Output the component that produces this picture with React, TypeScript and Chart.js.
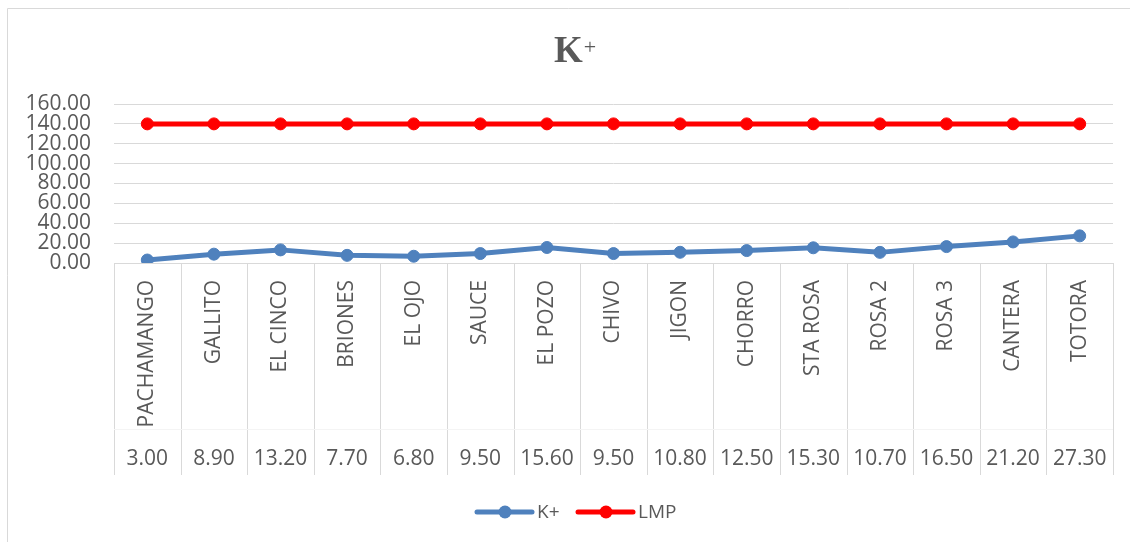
import React, { useEffect, useRef } from 'react';
import { Chart, registerables } from 'chart.js';

Chart.register(...registerables);

const categories = ['PACHAMANGO', 'GALLITO', 'EL CINCO', 'BRIONES', 'EL OJO', 'SAUCE', 'EL POZO', 'CHIVO', 'JIGON', 'CHORRO', 'STA ROSA', 'ROSA 2', 'ROSA 3', 'CANTERA', 'TOTORA'];
const kValues = [3.0, 8.9, 13.2, 7.7, 6.8, 9.5, 15.6, 9.5, 10.8, 12.5, 15.3, 10.7, 16.5, 21.2, 27.3];
const lmpValues = [140, 140, 140, 140, 140, 140, 140, 140, 140, 140, 140, 140, 140, 140, 140];
const yMin = 0;
const yMax = 160;
const yStep = 20;
const titleMain = 'K';
const titleSup = '+';
const seriesNames = ['K+', 'LMP'];
const seriesColors = ['#4F81BD', '#FF0000'];

const FONT = "'Open Sans', 'Liberation Sans', sans-serif";
const TEXT = '#595959';
const GRID = '#d9d9d9';

const decorPlugin = {
  id: 'decor',
  afterDraw(chart: any) {
    const { ctx, chartArea, scales } = chart;
    const x = scales.x;
    const n = categories.length;
    const w = (chartArea.right - chartArea.left) / n;
    const top = chartArea.bottom;
    const bottom = x.bottom;
    ctx.save();

    // outer frame (cropped on right/bottom)
    ctx.strokeStyle = GRID;
    ctx.lineWidth = 1;
    ctx.beginPath();
    ctx.moveTo(7.5, 542);
    ctx.lineTo(7.5, 8.5);
    ctx.lineTo(1130, 8.5);
    ctx.stroke();

    // data table vertical lines
    ctx.strokeStyle = GRID;
    ctx.lineWidth = 1;
    for (let i = 0; i <= n; i++) {
      const px = Math.round(x.getPixelForValue(0) - w / 2 + i * w) + 0.5;
      ctx.beginPath();
      ctx.moveTo(px, top);
      ctx.lineTo(px, bottom);
      ctx.stroke();
    }
    // faint separator
    ctx.strokeStyle = '#f4f4f4';
    ctx.beginPath();
    ctx.moveTo(chartArea.left, Math.round(bottom - 46) + 0.5);
    ctx.lineTo(chartArea.right, Math.round(bottom - 46) + 0.5);
    ctx.stroke();

    // values row
    ctx.fillStyle = TEXT;
    ctx.font = `21px ${FONT}`;
    ctx.textAlign = 'center';
    ctx.textBaseline = 'middle';
    kValues.forEach((v, i) => {
      ctx.fillText(v.toFixed(2), x.getPixelForValue(i), bottom - 16);
    });

    // title
    ctx.textAlign = 'left';
    ctx.textBaseline = 'alphabetic';
    ctx.font = `bold 37px 'Liberation Serif', 'Times New Roman', serif`;
    const kW = ctx.measureText(titleMain).width;
    ctx.font = `22px 'Liberation Serif', 'Times New Roman', serif`;
    const pW = ctx.measureText(titleSup).width;
    const startX = 575 - (kW + pW + 1) / 2;
    ctx.font = `bold 37px 'Liberation Serif', 'Times New Roman', serif`;
    ctx.fillText(titleMain, startX, 62);
    ctx.font = `22px 'Liberation Serif', 'Times New Roman', serif`;
    ctx.fillText(titleSup, startX + kW + 1, 54);

    // legend
    const ly = 512;
    const items = [
      { x0: 477, label: chart.data.datasets[0].label, color: chart.data.datasets[0].borderColor },
      { x0: 578, label: chart.data.datasets[1].label, color: chart.data.datasets[1].borderColor },
    ];
    ctx.font = `19px ${FONT}`;
    ctx.textBaseline = 'middle';
    items.forEach((it) => {
      ctx.strokeStyle = it.color;
      ctx.lineWidth = 5;
      ctx.lineCap = 'round';
      ctx.beginPath();
      ctx.moveTo(it.x0, ly);
      ctx.lineTo(it.x0 + 55, ly);
      ctx.stroke();
      ctx.fillStyle = it.color;
      ctx.beginPath();
      ctx.arc(it.x0 + 28, ly, 6.5, 0, Math.PI * 2);
      ctx.fill();
      ctx.fillStyle = TEXT;
      ctx.fillText(it.label, it.x0 + 60, ly + 1);
    });

    ctx.restore();
  },
};

export default function App() {
  const ref = useRef<HTMLCanvasElement | null>(null);

  useEffect(() => {
    if (!ref.current) return;
    const chart = new Chart(ref.current, {
      type: 'line',
      data: {
        labels: categories,
        datasets: [
          {
            label: seriesNames[0],
            data: kValues,
            borderColor: seriesColors[0],
            backgroundColor: seriesColors[0],
            pointBackgroundColor: seriesColors[0],
            pointBorderColor: seriesColors[0],
            borderWidth: 5,
            pointRadius: 6,
            pointBorderWidth: 1,
            tension: 0,
          },
          {
            label: seriesNames[1],
            data: lmpValues,
            borderColor: seriesColors[1],
            backgroundColor: seriesColors[1],
            pointBackgroundColor: seriesColors[1],
            pointBorderColor: seriesColors[1],
            borderWidth: 5,
            pointRadius: 6,
            pointBorderWidth: 1,
            tension: 0,
          },
        ],
      },
      options: {
        animation: false,
        responsive: false,
        maintainAspectRatio: false,
        layout: { padding: { left: 0, right: 17, top: 104, bottom: 67 } },
        plugins: {
          legend: { display: false },
          title: { display: false },
          tooltip: { enabled: false },
        },
        scales: {
          x: {
            type: 'category',
            offset: true,
            grid: { display: false, drawTicks: false },
            border: { display: false },
            ticks: {
              autoSkip: false,
              minRotation: 90,
              maxRotation: 90,
              padding: 17,
              color: TEXT,
              font: { family: FONT, size: 21 },
            },
            afterFit: (s: any) => {
              s.height = 212;
            },
          },
          y: {
            min: yMin,
            max: yMax,
            grid: { color: GRID, lineWidth: 1, drawTicks: false },
            border: { display: false },
            ticks: {
              autoSkip: false,
              stepSize: yStep,
              padding: 23,
              color: TEXT,
              font: { family: FONT, size: 21 },
              callback: (v: any) => Number(v).toFixed(2),
            },
            afterFit: (s: any) => {
              s.width = 114;
            },
          },
        },
      },
      plugins: [decorPlugin],
    });
    return () => chart.destroy();
  }, []);

  return (
    <div style={{ position: 'fixed', left: 0, top: 0, width: 1130, height: 542, background: '#fff' }}>
      <canvas ref={ref} width={1130} height={542} style={{ width: 1130, height: 542, display: 'block' }} />
    </div>
  );
}
